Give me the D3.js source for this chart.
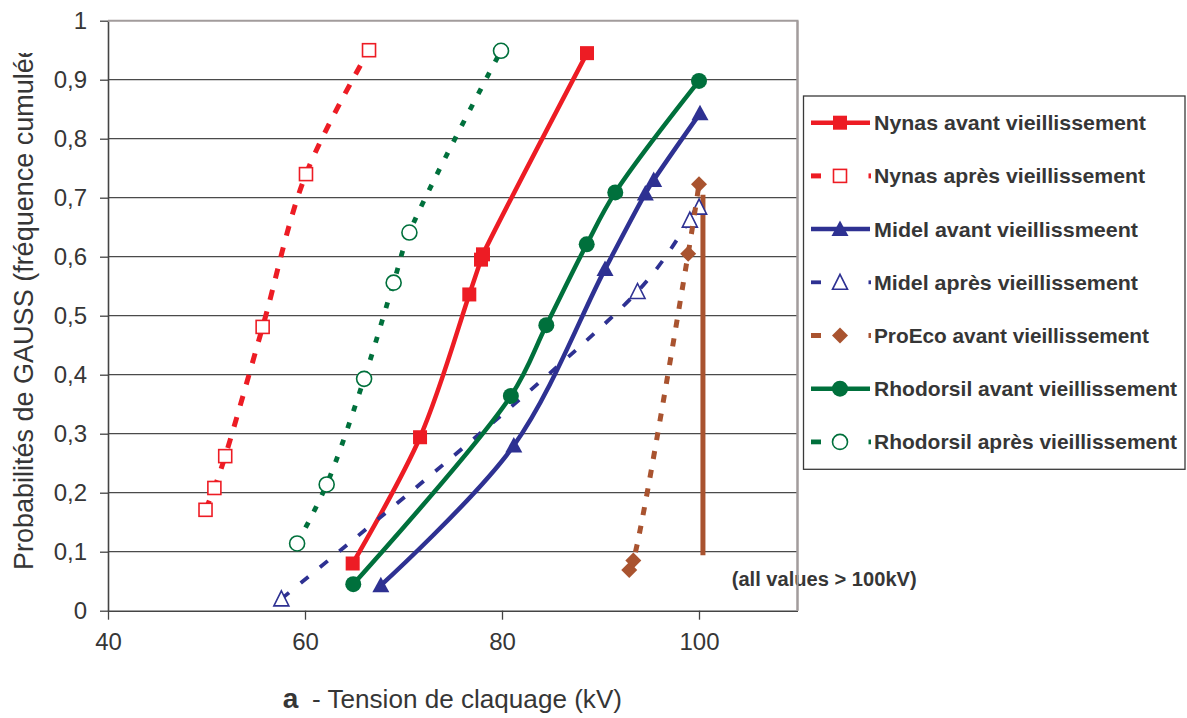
<!DOCTYPE html>
<html><head><meta charset="utf-8">
<script src="https://cdn.jsdelivr.net/npm/d3@7"></script>
<style>body{margin:0;background:#fff} svg{display:block}</style>
</head><body><svg id="c" width="1187" height="718"></svg>
<script>
// ---- data ----
const xTicks = [40, 60, 80, 100];
const yTicks = [0, 0.1, 0.2, 0.3, 0.4, 0.5, 0.6, 0.7, 0.8, 0.9, 1];
const seriesNames = ["Nynas avant vieillissement", "Nynas après vieillissement", "Midel avant vieillissmeent",
  "Midel après vieillissement", "ProEco avant vieillissement", "Rhodorsil avant vieillissement", "Rhodorsil après vieillissement"];
const nynasAvantX = [64.84, 71.68, 76.68, 77.87, 78.07, 88.63];
const nynasAvantY = [0.080, 0.294, 0.536, 0.595, 0.604, 0.945];
const nynasApresX = [49.9, 50.8, 51.9, 55.7, 60.1, 66.5];
const nynasApresY = [0.171, 0.208, 0.262, 0.481, 0.740, 0.950];
const midelAvantX = [67.7, 81.2, 90.46, 94.55, 95.4, 100.1];
const midelAvantY = [0.043, 0.280, 0.579, 0.707, 0.730, 0.843];
const midelApresX = [57.6, 93.76, 99.07, 100.01];
const midelApresY = [0.020, 0.541, 0.662, 0.684];
const proEcoX = [92.92, 93.33, 98.9, 100.0];
const proEcoY = [0.069, 0.085, 0.605, 0.723];
const rhodoAvantX = [64.9, 80.9, 84.5, 88.6, 91.5, 100.0];
const rhodoAvantY = [0.045, 0.364, 0.484, 0.621, 0.709, 0.898];
const rhodoApresX = [59.2, 62.2, 66.0, 69.0, 70.6, 79.9];
const rhodoApresY = [0.114, 0.214, 0.393, 0.556, 0.641, 0.949];
const proEcoLimitX = [100.4, 100.4];
const proEcoLimitY = [0.094, 0.705];
const annotation = "(all values > 100kV)";
const yTitle = "Probabilités de GAUSS (fréquence cumulée)";

// ---- styles ----
const RED = "#ed1c24", BLUE = "#2e3192", GREEN = "#00703c", BROWN = "#a9532f";
const styles = [
  {c: RED, w: 4.5, dash: null, m: "square"},
  {c: RED, w: 5, dash: "10,12", m: "squareOpen"},
  {c: BLUE, w: 4.5, dash: null, m: "triangle"},
  {c: BLUE, w: 3.8, dash: "10,15", m: "triangleOpen"},
  {c: BROWN, w: 5, dash: "8,11", m: "diamond"},
  {c: GREEN, w: 4.5, dash: null, m: "circle"},
  {c: GREEN, w: 4.8, dash: "6,12", m: "circleOpen"}
];
const xs = [nynasAvantX, nynasApresX, midelAvantX, midelApresX, proEcoX, rhodoAvantX, rhodoApresX];
const ys = [nynasAvantY, nynasApresY, midelAvantY, midelApresY, proEcoY, rhodoAvantY, rhodoApresY];

const FONT = "Arial, 'Liberation Sans', sans-serif";
const TXT = "#363636";
const svg = d3.select("#c");
const L = 108, R = 797.5, T = 20.7, B = 610.7;
const x = d3.scaleLinear().domain([40, 110]).range([L, R]);
const y = d3.scaleLinear().domain([0, 1]).range([B, T]);

// gridlines
svg.append("g").selectAll("line").data(yTicks.filter(d => d > 0 && d < 1)).join("line")
  .attr("x1", L).attr("x2", R).attr("y1", d => y(d)).attr("y2", d => y(d))
  .attr("stroke", "#4a4a4a").attr("stroke-width", 1.3);

// axes
const yAxis = svg.append("g").attr("transform", `translate(${L},0)`)
  .call(d3.axisLeft(y).tickValues(yTicks).tickSize(8).tickSizeOuter(0).tickPadding(13)
    .tickFormat(d => d === 0 ? "0" : d === 1 ? "1" : d.toFixed(1).replace(".", ",")));
const xAxis = svg.append("g").attr("transform", `translate(0,${B})`)
  .call(d3.axisBottom(x).tickValues(xTicks).tickSize(9).tickSizeOuter(0).tickPadding(10).tickFormat(d3.format("d")));
[yAxis, xAxis].forEach(a => {
  a.select(".domain").attr("stroke", "#444").attr("stroke-width", 1.6);
  a.selectAll(".tick line").attr("stroke", "#444").attr("stroke-width", 1.3);
  a.selectAll(".tick text").attr("font-family", FONT).attr("font-size", 24).attr("fill", TXT);
});
xAxis.selectAll(".tick text").attr("dy", "0.85em");

// plot border top/right
svg.append("path").attr("d", `M${L},${T}H${R}V${B}`).attr("fill", "none")
  .attr("stroke", "#a29c9c").attr("stroke-width", 2);

function marker(g, type, cx, cy, color) {
  if (type === "square") g.append("rect").attr("x", cx - 7).attr("y", cy - 7).attr("width", 14).attr("height", 14).attr("fill", color);
  else if (type === "squareOpen") g.append("rect").attr("x", cx - 6.5).attr("y", cy - 6.5).attr("width", 13).attr("height", 13).attr("fill", "#fff").attr("stroke", color).attr("stroke-width", 1.6);
  else if (type === "triangle") g.append("path").attr("d", `M${cx},${cy - 8.5}L${cx + 8.5},${cy + 7}L${cx - 8.5},${cy + 7}Z`).attr("fill", color);
  else if (type === "triangleOpen") g.append("path").attr("d", `M${cx},${cy - 8}L${cx + 7.5},${cy + 7}L${cx - 7.5},${cy + 7}Z`).attr("fill", "#fff").attr("stroke", color).attr("stroke-width", 1.6);
  else if (type === "diamond") g.append("path").attr("d", `M${cx},${cy - 8}L${cx + 8},${cy}L${cx},${cy + 8}L${cx - 8},${cy}Z`).attr("fill", color);
  else if (type === "circle") g.append("circle").attr("cx", cx).attr("cy", cy).attr("r", 8).attr("fill", color);
  else if (type === "circleOpen") g.append("circle").attr("cx", cx).attr("cy", cy).attr("r", 7.5).attr("fill", "#fff").attr("stroke", color).attr("stroke-width", 1.6);
}

const line = d3.line().x(d => x(d[0])).y(d => y(d[1])).curve(d3.curveCatmullRom.alpha(0.5));

// vertical limit line (ProEco > 100 kV)
svg.append("path").datum(d3.zip(proEcoLimitX, proEcoLimitY)).attr("d", d3.line().x(d => x(d[0])).y(d => y(d[1])))
  .attr("stroke", BROWN).attr("stroke-width", 5).attr("fill", "none");

styles.forEach((s, i) => {
  const pts = d3.zip(xs[i], ys[i]);
  const g = svg.append("g");
  g.append("path").datum(pts).attr("d", line).attr("fill", "none").attr("stroke", s.c)
    .attr("stroke-width", s.w).attr("stroke-dasharray", s.dash);
  pts.forEach(p => marker(g, s.m, x(p[0]), y(p[1]), s.c));
});

// annotation
svg.append("text").attr("x", 731.7).attr("y", 585.5).attr("font-family", FONT).attr("font-weight", "bold")
  .attr("font-size", 20).attr("fill", TXT).attr("textLength", 185).attr("lengthAdjust", "spacingAndGlyphs").text(annotation);
// right border redrawn above annotation
svg.append("line").attr("x1", R).attr("x2", R).attr("y1", T).attr("y2", B).attr("stroke", "#a29c9c").attr("stroke-width", 2);

// legend
const legW = [272, 271, 264, 264, 275, 303, 303];
const lg = svg.append("g");
lg.append("rect").attr("x", 803.5).attr("y", 96).attr("width", 1185 - 803.5).attr("height", 469.3 - 96)
  .attr("fill", "#fff").attr("stroke", "#3a3a3a").attr("stroke-width", 1.3);
seriesNames.forEach((n, i) => {
  const s = styles[i], cy = 122.7 + i * 53.2;
  if (!s.dash) {
    lg.append("line").attr("x1", 811).attr("x2", 870).attr("y1", cy).attr("y2", cy).attr("stroke", s.c).attr("stroke-width", s.w);
  } else {
    lg.append("line").attr("x1", 811).attr("x2", 821).attr("y1", cy).attr("y2", cy).attr("stroke", s.c).attr("stroke-width", s.w);
    lg.append("line").attr("x1", 868.5).attr("x2", 871).attr("y1", cy).attr("y2", cy).attr("stroke", s.c).attr("stroke-width", s.w);
  }
  marker(lg, s.m, 840, cy, s.c);
  lg.append("text").attr("x", 874).attr("y", cy + 7.5).attr("font-family", FONT).attr("font-weight", "bold")
    .attr("font-size", 21).attr("fill", TXT).attr("textLength", legW[i]).attr("lengthAdjust", "spacingAndGlyphs").text(n);
});

// axis titles
const xt = svg.append("text").attr("y", 708).attr("font-family", FONT).attr("font-size", 25).attr("fill", TXT);
xt.append("tspan").attr("x", 282.7).attr("font-weight", "bold").attr("font-size", 28).text("a");
xt.append("tspan").attr("x", 312).attr("textLength", 310).attr("lengthAdjust", "spacingAndGlyphs").text("- Tension de claquage (kV)");

svg.append("clipPath").attr("id", "yclip").append("rect").attr("x", 0).attr("y", 53).attr("width", 80).attr("height", 600);
svg.append("g").attr("clip-path", "url(#yclip)").append("text")
  .attr("transform", "translate(33.3,570) rotate(-90)").attr("font-family", FONT).attr("font-size", 27)
  .attr("fill", TXT).text(yTitle);
</script></body></html>
